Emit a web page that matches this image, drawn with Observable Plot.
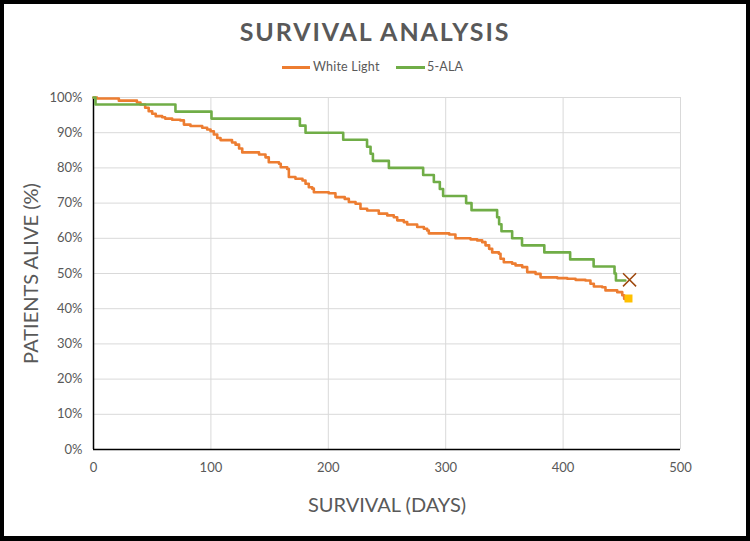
<!DOCTYPE html>
<html>
<head>
<meta charset="utf-8">
<script src="https://cdn.jsdelivr.net/npm/d3@7"></script>
<script src="https://cdn.jsdelivr.net/npm/@observablehq/plot@0.6"></script>
<style>
  html, body { margin: 0; padding: 0; background: #000; }
  body { width: 750px; height: 541px; position: relative; overflow: hidden; font-family: Lato, "Open Sans", sans-serif; }
  #frame { position: absolute; left: 4px; top: 4px; width: 742px; height: 532px; background: #fff; }
  .abs { position: absolute; white-space: nowrap; color: #595959; }
  #title { left: 0; width: 750px; text-align: center; top: 19px; font-size: 25px; line-height: 25px; font-weight: 700; letter-spacing: 1.9px; }
  .sw { position: absolute; height: 3px; }
  .lg { font-size: 12.5px; line-height: 12px; top: 61px; letter-spacing: 0.2px; }
  #chart { position: absolute; left: 4px; top: 80px; }
</style>
</head>
<body>
<div id="frame"></div>
<div id="title" class="abs">SURVIVAL ANALYSIS</div>
<div id="legend"></div>
<div id="chart"></div>
<script>
// ---- data ----
const seriesNames = ["White Light", "5-ALA"];
const seriesColors = ["#ED7D31", "#70AD47"];

const whiteLightDays = [0, 3, 21.6, 37, 40, 44, 47, 50, 53, 58.5, 61, 67, 74, 77, 82.6, 92.6, 96.8, 99.7, 102.5, 105.4,
  108.2, 118, 121, 124, 126.7, 141, 146.5, 149.3, 158, 159.5, 165, 166.4, 172, 178, 180.6, 183.4, 186.3, 187.7, 200.4, 206.1,
  214, 217.5, 223.2, 227.4, 233.1, 243, 250.2, 255.8, 258.7, 264.3, 267.2, 275.7, 281.4, 284.2, 285.6, 303, 308.3, 321.1, 326.8, 331.1,
  333.9, 337, 339.6, 345.3, 346.7, 349.5, 356.6, 359.5, 365.2, 369.4, 376.5, 380.8, 395, 403.5, 410.6, 419, 423.3, 426.2, 433.3, 436.1,
  446.1, 450.4, 452, 453];
const whiteLightPct = [100, 99.7, 99.1, 98.6, 98.0, 97.1, 96.1, 95.4, 94.7, 94.4, 94.0, 93.7, 93.5, 92.3, 91.9, 91.4, 90.9, 90.4, 89.5, 88.5,
  87.9, 87.2, 86.6, 85.5, 84.4, 83.8, 83.0, 81.6, 81.2, 80.2, 79.7, 77.4, 76.9, 76.4, 75.5, 74.5, 74.1, 73.1, 72.8, 71.7,
  71.2, 70.3, 69.8, 68.4, 67.9, 67.0, 66.5, 66.0, 65.1, 64.6, 63.9, 63.2, 62.7, 62.2, 61.4, 61.1, 60.0, 59.7, 59.4, 58.9,
  58.0, 57.0, 56.0, 55.6, 54.2, 53.2, 52.8, 52.3, 51.8, 50.4, 49.9, 48.9, 48.7, 48.5, 48.2, 48.0, 47.1, 46.3, 46.1, 45.2,
  44.7, 43.8, 42.8, 42.8];

const alaDays = [0, 1.7, 69.8, 100.5, 175.8, 180.6, 212.7, 233, 236, 238, 251.6, 280.8, 289.9, 295, 297.8,
  317.4, 322, 343.8, 345.5, 347.5, 356.6, 365, 384, 406, 426, 443.8, 445, 453];
const alaPct = [100, 98, 96, 94, 92, 90, 88, 86, 84, 82, 80, 78, 76, 74, 72,
  70, 68, 66, 64, 62, 60, 58, 56, 54, 52, 50, 48, 48];

// censored end markers
const whiteLightEnd = {day: 455.7, pct: 42.9};
const alaEnd = {day: 456.6, pct: 48.2};

const xTicks = [0, 100, 200, 300, 400, 500];
const yTicks = [0, 10, 20, 30, 40, 50, 60, 70, 80, 90, 100];

const xTitle = "SURVIVAL (DAYS)";
const yTitle = "PATIENTS ALIVE (%)";

// ---- tables ----
const wl = whiteLightDays.map((d, i) => ({day: d, pct: whiteLightPct[i]}));
const ala = alaDays.map((d, i) => ({day: d, pct: alaPct[i]}));

// ---- legend ----
const legend = document.getElementById("legend");
const lgPos = [{sw: 282, tx: 313, w: 28}, {sw: 396, tx: 427, w: 29}];
seriesNames.forEach((name, i) => {
  const s = document.createElement("div");
  s.className = "sw";
  s.style.left = lgPos[i].sw + "px";
  s.style.top = "66px";
  s.style.width = lgPos[i].w + "px";
  s.style.background = seriesColors[i];
  legend.appendChild(s);
  const t = document.createElement("div");
  t.className = "abs lg";
  t.style.left = lgPos[i].tx + "px";
  t.textContent = name;
  legend.appendChild(t);
});

// ---- chart ----
const chart = Plot.plot({
  width: 742,
  height: 450,
  marginLeft: 89,
  marginRight: 66,
  marginTop: 17,
  marginBottom: 81,
  style: {fontFamily: "Lato, 'Open Sans', sans-serif", fontSize: "13px", color: "#595959", background: "transparent", overflow: "visible"},
  x: {domain: [0, 500], ticks: xTicks, label: null, tickSize: 0, tickPadding: 13},
  y: {domain: [0, 100], ticks: yTicks, tickFormat: d => d + "%", label: null, tickSize: 0, tickPadding: 11},
  marks: [
    Plot.ruleX(xTicks.slice(1), {stroke: "#d9d9d9", strokeWidth: 1}),
    Plot.ruleY(yTicks.slice(1), {stroke: "#d9d9d9", strokeWidth: 1}),
    Plot.ruleX([0], {stroke: "#000", strokeWidth: 1.5}),
    Plot.ruleY([0], {stroke: "#000", strokeWidth: 1.5}),
    Plot.line(wl, {x: "day", y: "pct", curve: "step-after", stroke: seriesColors[0], strokeWidth: 2.6}),
    Plot.line(ala, {x: "day", y: "pct", curve: "step-after", stroke: seriesColors[1], strokeWidth: 2.6}),
    Plot.dot([whiteLightEnd], {x: "day", y: "pct", symbol: "square", fill: "#FFC000", r: 4.5}),
    Plot.dot([alaEnd], {x: "day", y: "pct", symbol: "times", stroke: "#9E480E", strokeWidth: 1.5, r: 6}),
    Plot.text([xTitle], {frameAnchor: "bottom", dy: 56, fontSize: 20, fill: "#595959", lineAnchor: "middle", textAnchor: "middle"}),
    Plot.text([yTitle], {frameAnchor: "left", dx: -62, dy: 0, rotate: -90, fontSize: 20, fill: "#595959", lineAnchor: "middle", textAnchor: "middle"})
  ]
});
document.getElementById("chart").appendChild(chart);
</script>
</body>
</html>
